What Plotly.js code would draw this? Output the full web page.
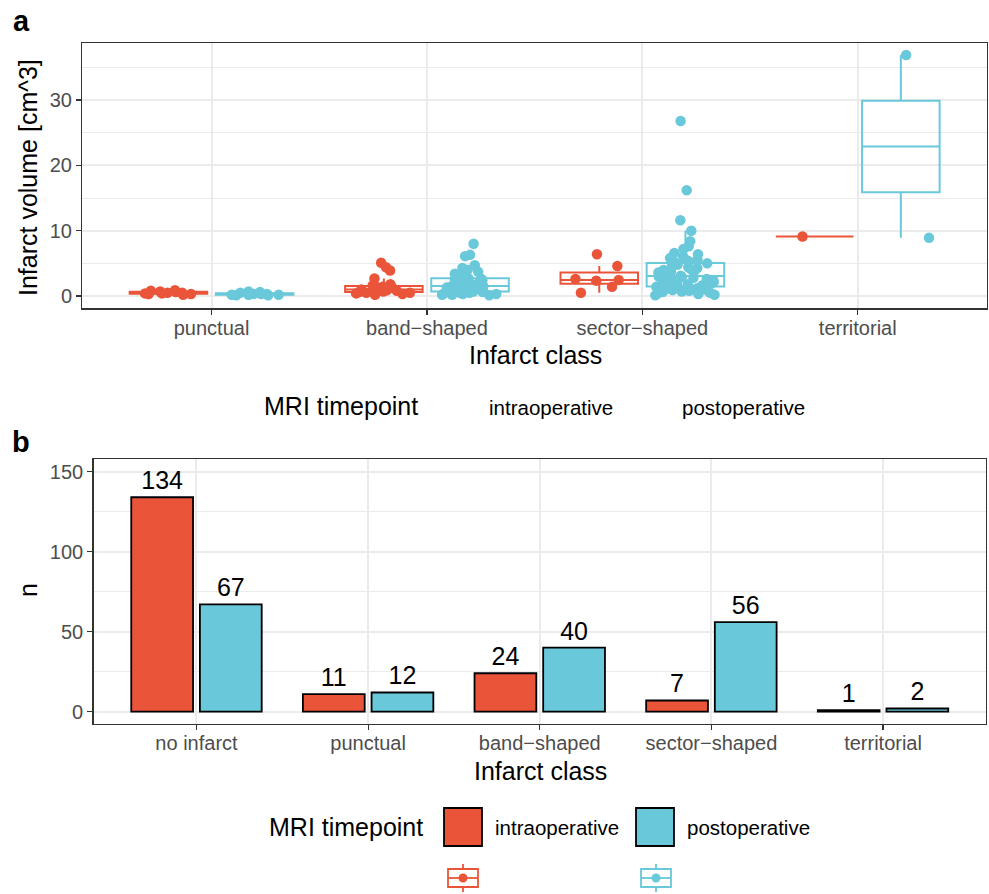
<!DOCTYPE html>
<html>
<head>
<meta charset="utf-8">
<script src="https://cdn.plot.ly/plotly-3.0.1.min.js"></script>
<style>html,body{margin:0;padding:0;background:#fff}#chart{width:989px;height:894px}</style>
</head>
<body>
<div id="chart"></div>
<script>
// ---------- DATA ----------
const volumeClasses = ['punctual', 'band\u2212shaped', 'sector\u2212shaped', 'territorial'];
const countClasses = ['no infarct', 'punctual', 'band\u2212shaped', 'sector\u2212shaped', 'territorial'];
const timepoints = ['intraoperative', 'postoperative'];

// infarct volumes [cm^3] per class, intraoperative MRI
const intraPunctual = [0.2, 0.3, 0.3, 0.4, 0.4, 0.5, 0.5, 0.6, 0.7, 0.8, 0.9];
const intraBand = [0.2, 0.3, 0.4, 0.5, 0.5, 0.6, 0.6, 0.7, 0.7, 0.8, 0.9, 1.0, 1.0, 1.1, 1.2, 1.3, 1.4, 1.5, 1.6, 1.8, 2.7, 3.9, 4.4, 5.1];
const intraSector = [0.5, 1.4, 2.35, 2.45, 2.6, 4.6, 6.4];
const intraTerritorial = [9.1];

// infarct volumes [cm^3] per class, postoperative MRI
const postPunctual = [0.1, 0.1, 0.2, 0.2, 0.2, 0.3, 0.3, 0.3, 0.4, 0.5, 0.6, 0.7];
const postBand = [0.1, 0.2, 0.2, 0.3, 0.3, 0.4, 0.5, 0.5, 0.6, 0.7, 0.7, 0.8, 0.9, 1.0, 1.0, 1.1, 1.2, 1.3, 1.4, 1.5,
                  1.6, 1.7, 1.8, 2.0, 2.2, 2.3, 2.4, 2.5, 2.6, 2.7, 2.8, 3.4, 3.5, 3.7, 4.0, 4.3, 4.7, 6.1, 6.3, 8.0];
const postSector = [0.1, 0.2, 0.3, 0.4, 0.5, 0.6, 0.7, 0.8, 0.9, 1.0, 1.1, 1.2, 1.3, 1.4,
                    1.5, 1.6, 1.7, 1.8, 1.9, 2.0, 2.1, 2.2, 2.4, 2.5, 2.6, 2.8, 2.9, 3.0,
                    3.1, 3.2, 3.3, 3.5, 3.6, 3.7, 3.8, 4.0, 4.1, 4.3, 4.4, 4.6, 4.8, 5.0,
                    5.2, 5.4, 5.6, 5.8, 6.0, 6.4, 6.6, 7.2, 7.6, 8.4, 10.0, 11.6, 16.2, 26.8];
const postTerritorial = [8.9, 36.9];

// counts per infarct class
const countsIntra = [134, 11, 24, 7, 1];
const countsPost = [67, 12, 40, 56, 2];

// ---------- STYLE ----------
const RED = '#EA553A';
const BLUE = '#69C8DA';
const FONT = 'Liberation Sans, Arial, Helvetica, sans-serif';
const W = 989, H = 894;
const px = x => x / W;
const py = y => 1 - y / H;

// ggplot-style (R type 7) box statistics computed from the samples
function quant(sorted, p) {
  const h = (sorted.length - 1) * p, lo = Math.floor(h), hi = Math.ceil(h);
  return sorted[lo] + (h - lo) * (sorted[hi] - sorted[lo]);
}
function stats(groups) {
  const s = {q1: [], median: [], q3: [], lowerfence: [], upperfence: []};
  groups.forEach(g => {
    const v = g.slice().sort((a, b) => a - b);
    const q1 = quant(v, 0.25), q3 = quant(v, 0.75), iqr = q3 - q1;
    s.q1.push(q1); s.median.push(quant(v, 0.5)); s.q3.push(q3);
    s.lowerfence.push(Math.min(...v.filter(x => x >= q1 - 1.5 * iqr)));
    s.upperfence.push(Math.max(...v.filter(x => x <= q3 + 1.5 * iqr)));
  });
  return s;
}

function boxTrace(groups, name, color) {
  const st = stats(groups);
  return Object.assign({
    type: 'box', x: volumeClasses, y: groups, name: name, offsetgroup: name,
    xaxis: 'x', yaxis: 'y',
    boxpoints: 'all', jitter: 0.8, pointpos: 0,
    line: {color: color, width: 2},
    fillcolor: 'rgba(255,255,255,0)',
    marker: {color: color, size: 10.5, line: {width: 0}},
    whiskerwidth: 0, hoverinfo: 'skip', showlegend: false
  }, st);
}
function barTrace(vals, name, color) {
  return {
    type: 'bar', x: countClasses, y: vals, name: name, offsetgroup: name,
    xaxis: 'x2', yaxis: 'y2',
    marker: {color: color, line: {color: '#000', width: 1.8}},
    text: vals.map(String), textposition: 'outside', cliponaxis: false,
    textfont: {family: FONT, size: 25, color: '#000'},
    hoverinfo: 'skip', showlegend: false
  };
}

const data = [
  boxTrace([intraPunctual, intraBand, intraSector, intraTerritorial], timepoints[0], RED),
  boxTrace([postPunctual, postBand, postSector, postTerritorial], timepoints[1], BLUE),
  barTrace(countsIntra, timepoints[0], RED),
  barTrace(countsPost, timepoints[1], BLUE)
];

const gridMajor = '#EBEBEB';
const axBase = {
  showline: true, mirror: true, linecolor: '#333333', linewidth: 1.3,
  ticks: 'outside', ticklen: 5, tickwidth: 1.2, tickcolor: '#333333',
  tickfont: {family: FONT, size: 20, color: '#4D4D4D'},
  showgrid: true, gridcolor: gridMajor, gridwidth: 2, zeroline: false, fixedrange: true
};

const annotations = [];
function txt(text, x, y, size, opts) {
  annotations.push(Object.assign({
    text: text, x: px(x), y: py(y), xref: 'paper', yref: 'paper',
    showarrow: false, xanchor: 'center', yanchor: 'middle',
    font: {family: FONT, size: size, color: '#000'}
  }, opts || {}));
}
txt('<b>a</b>', 21, 21, 29);
txt('<b>b</b>', 21, 442, 29);
txt('Infarct volume [cm^3]', 28, 178, 25, {textangle: -90});
txt('Infarct class', 535, 355, 25);
txt('MRI timepoint', 262, 406, 25, {xanchor: 'left'});
txt(timepoints[0], 487, 407, 20.5, {xanchor: 'left'});
txt(timepoints[1], 680, 407, 20.5, {xanchor: 'left'});
txt('n', 28, 590, 25, {textangle: -90});
txt('Infarct class', 540, 771, 25);
txt('MRI timepoint', 267, 827, 25, {xanchor: 'left'});
txt(timepoints[0], 493, 827, 20.5, {xanchor: 'left'});
txt(timepoints[1], 685, 827, 20.5, {xanchor: 'left'});

const shapes = [];
function rectPx(x0, y0, x1, y1, fill, lineColor, lw) {
  shapes.push({type: 'rect', xref: 'paper', yref: 'paper', x0: px(x0), x1: px(x1), y0: py(y1), y1: py(y0),
    fillcolor: fill, line: {color: lineColor, width: lw}});
}
function linePx(x0, y0, x1, y1, color, lw) {
  shapes.push({type: 'line', xref: 'paper', yref: 'paper', x0: px(x0), x1: px(x1), y0: py(y0), y1: py(y1),
    line: {color: color, width: lw}});
}
function boxKey(cx, cy, color) {
  linePx(cx, cy - 14, cx, cy + 14, color, 1.8);
  rectPx(cx - 15, cy - 9, cx + 15, cy + 9, '#fff', color, 1.8);
  linePx(cx - 15, cy, cx + 15, cy, color, 1.8);
  shapes.push({type: 'circle', xref: 'paper', yref: 'paper', x0: px(cx - 4.5), x1: px(cx + 4.5), y0: py(cy + 4.5), y1: py(cy - 4.5),
    fillcolor: color, line: {width: 0}});
}
rectPx(444, 808, 482, 846, RED, '#000', 1.8);
rectPx(636, 808, 674, 846, BLUE, '#000', 1.8);
boxKey(463, 878, RED);
boxKey(656, 878, BLUE);

const layout = {
  width: W, height: H,
  margin: {l: 0, r: 0, t: 0, b: 0},
  paper_bgcolor: '#fff', plot_bgcolor: '#fff',
  showlegend: false,
  boxmode: 'group', boxgap: 0.2, boxgroupgap: 0.1,
  barmode: 'group', bargap: 0.2, bargroupgap: 0.1,
  xaxis: Object.assign({}, axBase, {
    domain: [px(82.3), px(987)], anchor: 'y', type: 'category',
    categoryorder: 'array', categoryarray: volumeClasses, range: [-0.6, 3.6],
    ticklabelstandoff: -4
  }),
  yaxis: Object.assign({}, axBase, {
    domain: [py(308.3), py(43.3)], anchor: 'x', range: [-1.88, 38.68],
    tickvals: [0, 10, 20, 30],
    minor: {tickvals: [5, 15, 25, 35], showgrid: true, gridcolor: gridMajor, gridwidth: 1, ticks: ''}
  }),
  xaxis2: Object.assign({}, axBase, {
    domain: [px(93.5), px(986)], anchor: 'y2', type: 'category',
    categoryorder: 'array', categoryarray: countClasses, range: [-0.6, 4.6],
    ticklabelstandoff: -4
  }),
  yaxis2: Object.assign({}, axBase, {
    domain: [py(724), py(459)], anchor: 'x2', range: [-7.7, 157.9],
    tickvals: [0, 50, 100, 150],
    minor: {tickvals: [25, 75, 125], showgrid: true, gridcolor: gridMajor, gridwidth: 1, ticks: ''}
  }),
  annotations: annotations,
  shapes: shapes
};

Plotly.newPlot('chart', data, layout, {staticPlot: true, displayModeBar: false});
</script>
</body>
</html>
